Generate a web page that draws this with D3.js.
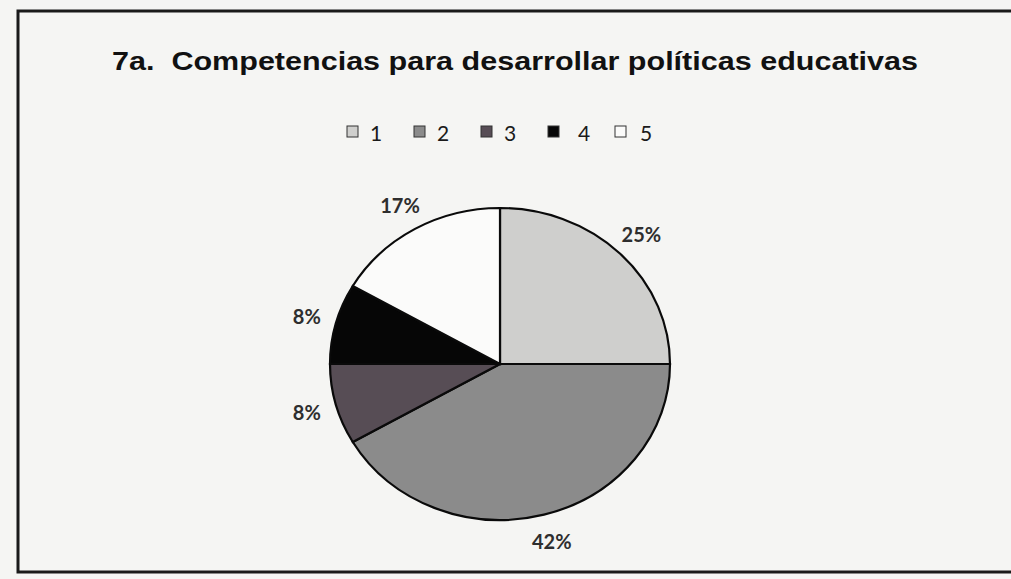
<!DOCTYPE html>
<html lang="es">
<meta charset="utf-8">
<head>
<script src="https://d3js.org/d3.v7.min.js"></script>
<style>
  body { margin: 0; background: #f5f5f3; }
  svg { display: block; }
</style>
</head>
<body>
<svg id="chart" width="1011" height="579"></svg>
<script>
// data
var categories = ["1", "2", "3", "4", "5"];
var counts = [3, 5, 1, 1, 2];
var labels = ["25%", "42%", "8%", "8%", "17%"];
var title = "7a.  Competencias para desarrollar políticas educativas";

var width = 1011, height = 579;
var svg = d3.select("#chart");

var color = d3.scaleOrdinal()
  .domain(categories)
  .range(["#cfcfcd", "#8b8b8b", "#574d55", "#060606", "#fbfbfa"]);

// frame (no right edge in the scan)
svg.append("path")
  .attr("d", "M1011,11 H18 V572 H1011")
  .attr("fill", "none")
  .attr("stroke", "#1a1a1a")
  .attr("stroke-width", 3);

// title
svg.append("text")
  .attr("x", 112)
  .attr("y", 70)
  .attr("textLength", 806)
  .attr("lengthAdjust", "spacingAndGlyphs")
  .style("font-family", "'Liberation Sans', Arial, sans-serif")
  .style("font-weight", "bold")
  .style("font-size", "25px")
  .style("fill", "#111")
  .style("white-space", "pre")
  .text(title);

// legend
var legendX = d3.scalePoint().domain(categories).range([347, 615]);
var leg = svg.append("g").selectAll("g")
  .data(categories)
  .enter().append("g")
  .attr("transform", function(d) { return "translate(" + legendX(d) + ",126)"; });
leg.append("rect")
  .attr("width", 11).attr("height", 11)
  .attr("fill", function(d) { return color(d); })
  .attr("stroke", "#333")
  .attr("stroke-width", 1);
leg.append("text")
  .attr("x", function(d, i) { return i == 3 ? 30 : (i == 4 ? 25 : 23); })
  .attr("y", 15)
  .style("font-family", "Lato, 'Open Sans', sans-serif")
  .style("font-size", "21px")
  .style("fill", "#1a1a1a")
  .text(function(d) { return d; });

// pie (drawn as an ellipse, like the scanned original)
var cx = 500, cy = 364, rx = 170, ry = 156;
var sy = ry / rx;

var pie = d3.pie().sort(null).value(function(d) { return d; });
var arcs = pie(counts);
var arc = d3.arc().innerRadius(0).outerRadius(rx);
var labelArc = d3.arc().innerRadius(200).outerRadius(200);

var g = svg.append("g")
  .attr("transform", "translate(" + cx + "," + cy + ") scale(1," + sy + ")");
g.selectAll("path")
  .data(arcs)
  .enter().append("path")
  .attr("d", arc)
  .attr("fill", function(d, i) { return color(categories[i]); })
  .attr("stroke", "#0a0a0a")
  .attr("stroke-width", 2.2)
  .attr("vector-effect", "non-scaling-stroke");

svg.append("g").selectAll("text")
  .data(arcs)
  .enter().append("text")
  .attr("x", function(d) { return cx + labelArc.centroid(d)[0]; })
  .attr("y", function(d) { return cy + labelArc.centroid(d)[1] * sy; })
  .attr("text-anchor", "middle")
  .attr("dominant-baseline", "central")
  .style("font-family", "Lato, 'Open Sans', sans-serif")
  .style("font-weight", "bold")
  .style("font-size", "20px")
  .style("fill", "#2e2e2e")
  .text(function(d, i) { return labels[i]; });
</script>
</body>
</html>
